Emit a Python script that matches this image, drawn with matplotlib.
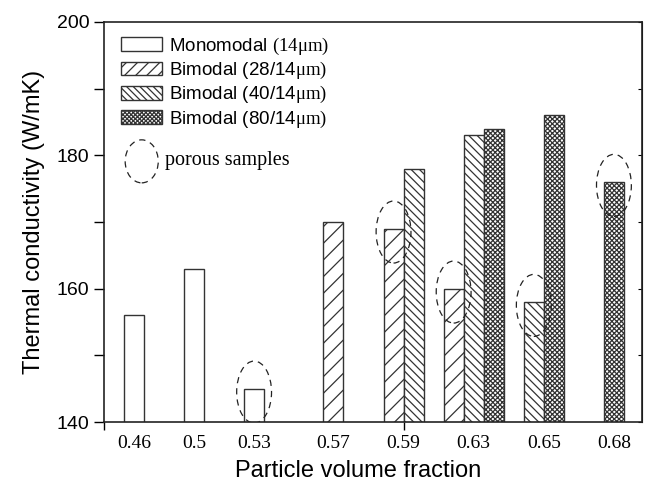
import matplotlib.pyplot as plt
import numpy as np
from matplotlib.patches import Ellipse, Patch

plt.rcParams['font.family'] = 'Liberation Sans'
plt.rcParams['mathtext.fontset'] = 'custom'
plt.rcParams['mathtext.rm'] = 'Liberation Serif'
plt.rcParams['hatch.linewidth'] = 0.9

# data
mono_frac = ['0.46', '0.5', '0.53']
mono_vals = [156, 163, 145]

bi_frac = ['0.57', '0.59', '0.63', '0.65', '0.68']
bi28_vals = [170, 169, 160, np.nan, np.nan]
bi40_vals = [np.nan, 178, 183, 158, np.nan]
bi80_vals = [np.nan, np.nan, 184, 186, 176]

# porous samples: (series, index)
porous = [('mono', 2), ('b28', 1), ('b28', 2), ('b40', 3), ('b80', 4)]

w = 1 / 3.0
mono_x = np.arange(len(mono_frac)) + 0.5
bi_base = np.arange(len(bi_frac)) + 3.82
series = {
    'mono': (mono_x, mono_vals),
    'b28': (bi_base, bi28_vals),
    'b40': (bi_base + w, bi40_vals),
    'b80': (bi_base + 2 * w, bi80_vals),
}

fig = plt.figure(figsize=(6.45, 4.88), dpi=100)
ax = fig.add_axes([0.161, 0.135, 0.834, 0.82])

ec = '#333333'
ax.bar(mono_x, mono_vals, w, color='white', edgecolor=ec, lw=1.0)
ax.bar(series['b28'][0], bi28_vals, w, color='white', edgecolor=ec, lw=1.0, hatch='//')
ax.bar(series['b40'][0], bi40_vals, w, color='white', edgecolor=ec, lw=1.0, hatch='\\\\\\\\')
ax.bar(series['b80'][0], bi80_vals, w, color='white', edgecolor=ec, lw=1.0, hatch='xxxxxxx')

for name, i in porous:
    xs, vs = series[name]
    ax.add_patch(Ellipse((xs[i], vs[i] - 0.5), 0.58, 9.3, fill=False,
                         ls=(0, (5, 4)), lw=0.9, color='#222222', zorder=5))

# category labels under the bars that exist
lab_x = list(mono_x)
for i in range(len(bi_frac)):
    cs = [series[k][0][i] for k in ('b28', 'b40', 'b80') if not np.isnan(series[k][1][i])]
    lab_x.append(np.mean(cs))
ax.set_xticks(lab_x)
ax.set_xticklabels(mono_frac + bi_frac, fontfamily='Liberation Serif', fontsize=14)
ax.tick_params(axis='x', which='major', length=0, pad=9)
ax.set_xticks([0, 5], minor=True)
ax.tick_params(axis='x', which='minor', direction='out', length=6, width=1)

ax.set_xlim(0, 8.95)
ax.set_ylim(140, 200)
ax.set_yticks([140, 160, 180, 200])
ax.set_yticks([150, 170, 190], minor=True)
ax.tick_params(axis='y', which='both', direction='out', length=7, width=1, labelsize=14)
ax2 = ax.secondary_yaxis('right')
ax2.set_yticks([140, 150, 160, 170, 180, 190, 200])
ax2.tick_params(direction='in', length=3, labelright=False)

for s in ax.spines.values():
    s.set_linewidth(1.2)
    s.set_color('#222222')

ax.set_xlabel('Particle volume fraction', fontsize=17, labelpad=8)
ax.xaxis.set_label_coords(0.472, -0.095)
ax.set_ylabel('Thermal conductivity (W/mK)', fontsize=17, labelpad=8)

handles = [
    Patch(facecolor='white', edgecolor=ec, lw=1.0),
    Patch(facecolor='white', edgecolor=ec, lw=1.0, hatch='///'),
    Patch(facecolor='white', edgecolor=ec, lw=1.0, hatch='\\\\\\\\\\'),
    Patch(facecolor='white', edgecolor=ec, lw=1.0, hatch='xxxxxxxx'),
]
labels = [
    'Monomodal $\\mathrm{(14\\mu m)}$',
    'Bimodal (28/14$\\mathrm{\\mu m)}$',
    'Bimodal (40/14$\\mathrm{\\mu m)}$',
    'Bimodal (80/14$\\mathrm{\\mu m)}$',
]
ax.legend(handles, labels, loc='upper left', bbox_to_anchor=(0.031, 0.966), frameon=False,
          fontsize=13.5, handlelength=2.2, handleheight=0.75, handletextpad=0.4,
          labelspacing=0.17, borderpad=0, borderaxespad=0)

ax.add_patch(Ellipse((0.63, 179.1), 0.55, 6.45, fill=False, ls=(0, (5, 4)),
                     lw=0.9, color='#222222'))
ax.text(1.02, 179.3, 'porous samples', fontfamily='Liberation Serif', fontsize=14.5,
        va='center', ha='left')

fig.savefig('out.png', dpi=100)
